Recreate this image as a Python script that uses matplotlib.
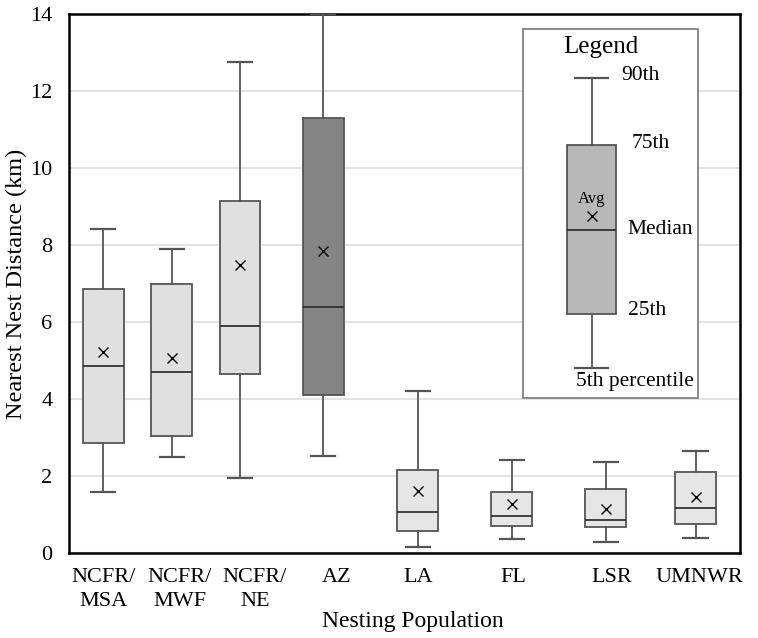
import matplotlib.pyplot as plt
from matplotlib.patches import Rectangle

plt.rcParams['font.family'] = ['Liberation Serif', 'DejaVu Serif']

# box statistics (km)
populations = ["NCFR/\nMSA", "NCFR/\nMWF", "NCFR/\nNE", "AZ", "LA", "FL", "LSR", "UMNWR"]
p5 = [1.6, 2.5, 1.95, 2.52, 0.16, 0.38, 0.3, 0.4]
p25 = [2.85, 3.05, 4.65, 4.1, 0.58, 0.7, 0.67, 0.75]
median = [4.85, 4.7, 5.9, 6.4, 1.07, 0.97, 0.85, 1.18]
p75 = [6.85, 7.0, 9.15, 11.3, 2.17, 1.6, 1.66, 2.1]
p90 = [8.42, 7.9, 12.75, 14.0, 4.2, 2.43, 2.37, 2.65]
avg = [5.22, 5.08, 7.47, 7.85, 1.62, 1.27, 1.15, 1.47]

# legend example box
legend_stats = dict(whislo=4.8, q1=6.2, med=8.4, q3=10.6, whishi=12.35, mean=8.75)

box_pos = [0.51, 1.53, 2.55, 3.79, 5.2, 6.6, 8.0, 9.34]
label_pos = [0.51, 1.65, 2.77, 3.99, 5.2, 6.63, 8.09, 9.4]
box_colors = ["#e0e0e0", "#e0e0e0", "#e0e0e0", "#858585",
              "#e6e6e6", "#e6e6e6", "#e6e6e6", "#e6e6e6"]

fig = plt.figure(figsize=(7.58, 6.38), dpi=100)
ax = fig.add_axes([0.091, 0.133, 0.885, 0.845])

stats = []
for i in range(len(populations)):
    stats.append(dict(whislo=p5[i], q1=p25[i], med=median[i], q3=p75[i],
                      whishi=p90[i], mean=avg[i]))

edge = "#555555"
style = dict(showmeans=True, showfliers=False, patch_artist=True,
             boxprops=dict(edgecolor=edge, linewidth=1.3),
             whiskerprops=dict(color=edge, linewidth=1.3),
             capprops=dict(color=edge, linewidth=1.6),
             medianprops=dict(color="#333333", linewidth=1.3),
             meanprops=dict(marker="x", markeredgecolor="black",
                            markersize=6.5, markeredgewidth=1.0))

bp = ax.bxp(stats, positions=box_pos, widths=0.61, capwidths=0.36, **style)
for patch, c in zip(bp["boxes"], box_colors):
    patch.set_facecolor(c)
for key, group in bp.items():
    for artist in group:
        artist.set_zorder(4 if key in ("medians", "means") else 3)

# legend panel
ax.add_patch(Rectangle((6.77, 4.04), 2.6, 9.56, facecolor="white",
                       edgecolor="#777777", linewidth=1.2, zorder=2.5))
lb = ax.bxp([legend_stats], positions=[7.79], widths=0.73, capwidths=0.49, **style)
lb["boxes"][0].set_facecolor("#b8b8b8")
for key, group in lb.items():
    for artist in group:
        artist.set_zorder(4 if key in ("medians", "means") else 3)

ax.text(7.93, 13.15, "Legend", ha="center", va="center", fontsize=18, zorder=5)
ax.text(7.79, 9.2, "Avg", ha="center", va="center", fontsize=12, zorder=5)
ax.text(8.24, 12.4, "90th", ha="left", va="center", fontsize=15.5, zorder=5)
ax.text(8.39, 10.65, "75th", ha="left", va="center", fontsize=15.5, zorder=5)
ax.text(8.32, 8.4, "Median", ha="left", va="center", fontsize=15.5, zorder=5)
ax.text(8.33, 6.3, "25th", ha="left", va="center", fontsize=15.5, zorder=5)
ax.text(8.44, 4.45, "5th percentile", ha="center", va="center", fontsize=15.5, zorder=5)

ax.set_xlim(0, 10)
ax.set_ylim(0, 14)
ax.set_yticks([0, 2, 4, 6, 8, 10, 12, 14])
ax.set_xticks(label_pos)
ax.set_xticklabels(populations, fontsize=16, linespacing=1.3)
ax.tick_params(axis="both", length=0, labelsize=16)
ax.tick_params(axis="y", pad=12)
ax.tick_params(axis="x", pad=11)
ax.grid(axis="y", color="#e3e3e3", linewidth=1.5, zorder=0)
ax.set_axisbelow(True)
for s in ax.spines.values():
    s.set_linewidth(1.8)
    s.set_color("black")

ax.set_xlabel("Nesting Population", fontsize=17)
ax.set_ylabel("Nearest Nest Distance (km)", fontsize=17.5)
ax.xaxis.set_label_coords(0.513, -0.108)
ax.yaxis.set_label_coords(-0.062, 0.5)

fig.savefig("out.png", dpi=100)
